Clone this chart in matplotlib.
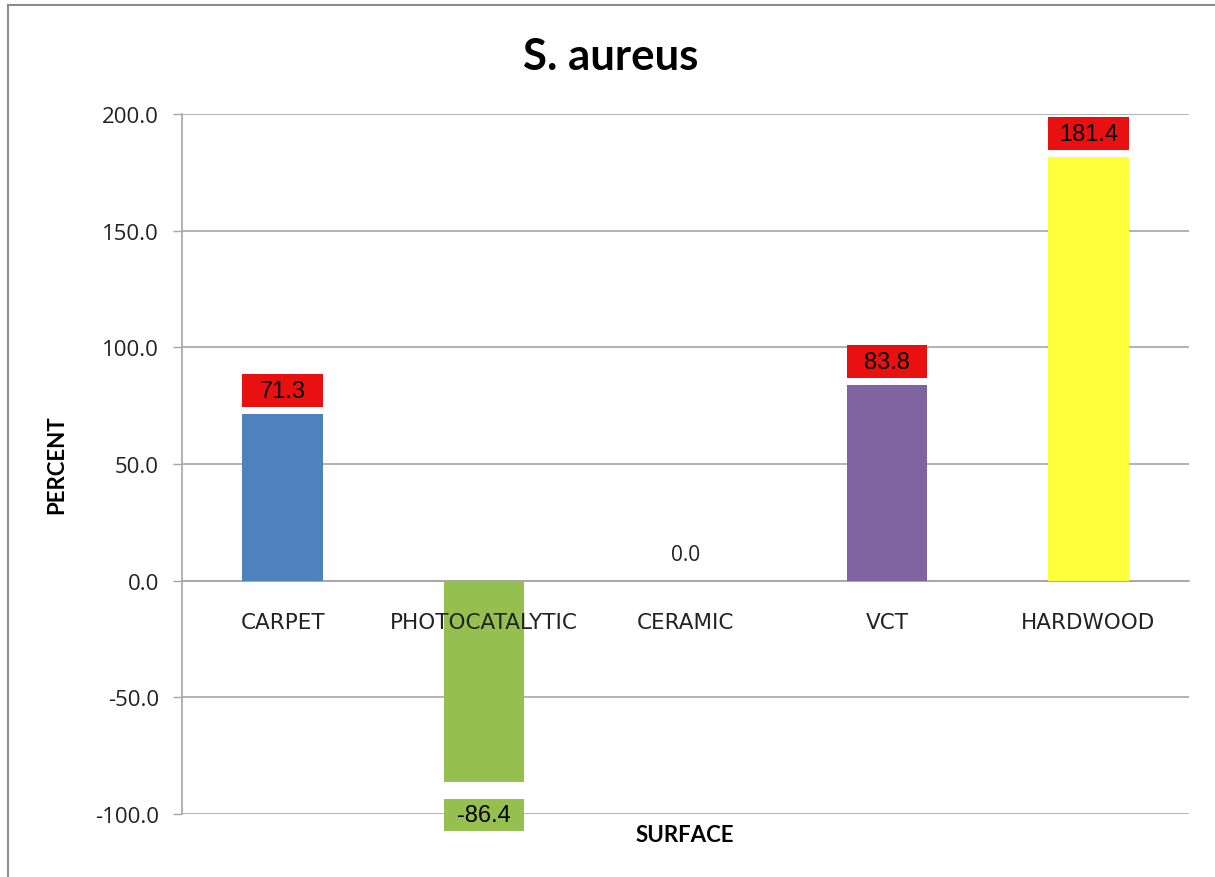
import numpy as np
import matplotlib.pyplot as plt
from matplotlib.lines import Line2D

# Dados do gráfico
surfaces = ['CARPET', 'PHOTOCATALYTIC', 'CERAMIC', 'VCT', 'HARDWOOD']
percent = [71.3, -86.4, 0.0, 83.8, 181.4]
bar_colors = ['#4F81BD', '#95C04F', '#FFFFFF', '#8064A2', '#FFFF3C']
yticks = [-100, -50, 0, 50, 100, 150, 200]

grid_col = '#A6A6A6'

fig = plt.figure(figsize=(12.15, 8.78), dpi=100)
ax = fig.add_axes([182 / 1215, 1 - 815 / 878, (1189 - 182) / 1215, 700 / 878])

x = np.arange(len(surfaces))
ax.bar(x, percent, width=0.4, color=bar_colors, zorder=3)

# Caixas de rótulo (vermelho para positivo, verde para negativo)
for xi, v, c in zip(x, percent, bar_colors):
    if v > 0:
        ax.bar(xi, 14.2, bottom=v + 3.0, width=0.4, color='#E81010', zorder=3)
        ax.text(xi, v + 10.1, f'{v:.1f}', ha='center', va='center',
                fontsize=17, family='Liberation Sans', zorder=5)
    elif v < 0:
        ax.bar(xi, -14.0, bottom=v - 7.0, width=0.4, color=c, zorder=3, clip_on=False)
        ax.text(xi, v - 14.0, f'{v:.1f}', ha='center', va='center',
                fontsize=17, family='Liberation Sans', zorder=5, clip_on=False)
    else:
        ax.text(xi, v + 11.0, f'{v:.1f}', ha='center', va='center',
                fontsize=15, family='Open Sans', color='#222222', zorder=5)

# Rótulos das categorias logo abaixo da linha do zero, por cima das barras
for xi, name in zip(x, surfaces):
    ax.annotate(name, (xi, 0), xytext=(0, -30), textcoords='offset points',
                ha='center', va='center', fontsize=15.5, color='#222222',
                family='DejaVu Sans', zorder=6)

ax.set_xlim(-0.5, len(surfaces) - 0.5)
ax.set_ylim(-100, 200)
ax.set_yticks(yticks)
ax.set_yticklabels([f'{t:.1f}' for t in yticks], family='Open Sans', fontsize=16, color='#222222')
ax.yaxis.grid(True, color=grid_col, linewidth=1.2, zorder=0)
ax.set_axisbelow(True)

ax.set_xticks([])
ax.tick_params(axis='y', length=6.5, width=1.0, color=grid_col, pad=10)

for s in ['top', 'right']:
    ax.spines[s].set_visible(False)
ax.spines['bottom'].set_position(('data', 0))
ax.spines['bottom'].set_color(grid_col)
ax.spines['bottom'].set_linewidth(1.2)
ax.spines['left'].set_color(grid_col)
ax.spines['left'].set_linewidth(1.2)

fig.text(611 / 1215, 1 - 57 / 878, 'S. aureus', ha='center', va='center',
         fontsize=31.5, fontweight='bold', family='Lato')
fig.text(685 / 1215, 1 - 836 / 878, 'SURFACE', ha='center', va='center',
         fontsize=16, fontweight='bold', family='Lato')
fig.text(57 / 1215, 1 - 465 / 878, 'PERCENT', ha='center', va='center',
         rotation=90, fontsize=16, fontweight='bold', family='Lato')

# Moldura (apenas topo e esquerda visíveis)
fig.add_artist(Line2D([8 / 1215, 8 / 1215], [0, 1 - 6 / 878], color='#8C8C8C', linewidth=1.5))
fig.add_artist(Line2D([8 / 1215, 1], [1 - 6 / 878, 1 - 6 / 878], color='#8C8C8C', linewidth=1.5))

fig.savefig('out.png', dpi=100)
